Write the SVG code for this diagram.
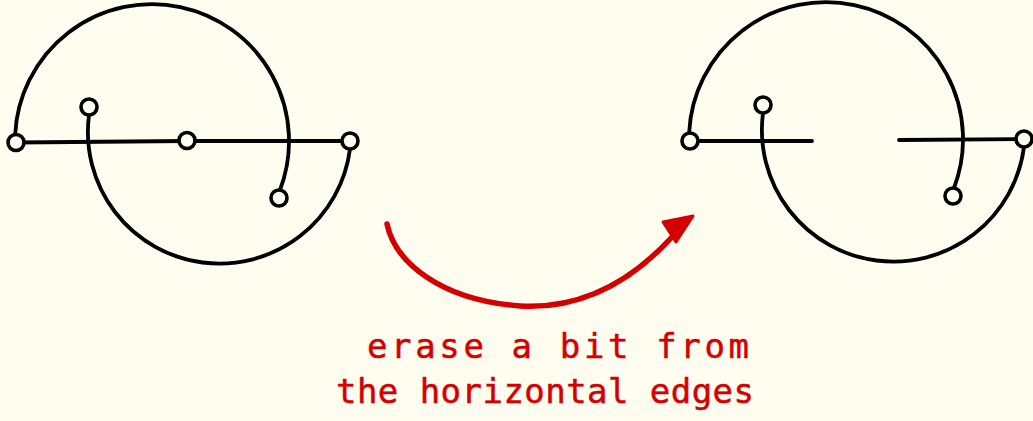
<svg xmlns="http://www.w3.org/2000/svg" width="1033" height="421" viewBox="0 0 1033 421">
<style>
.ln{fill:none;stroke:#000;stroke-width:3.8;stroke-linecap:round}
.pt{fill:#fffdef;stroke:#000;stroke-width:3.6}
.red{fill:none;stroke:#d40000;stroke-width:5.5;stroke-linecap:round}
.lbl{font-family:"DejaVu Sans Mono","Liberation Mono",monospace;font-size:34px;fill:#d40000;stroke:#d40000;stroke-width:0.5;stroke-linejoin:round}
</style>
<rect width="1033" height="421" fill="#fffdef"/>
<g id="left-figure">
<path class="ln" d="M16,142.5 L187,141 L350,141"/>
<path class="ln" d="M15.2,134 A137,137 0 1 1 280,190"/>
<path class="ln" d="M89,115 A131,131 0 1 0 350,149"/>
<circle class="pt" cx="16" cy="142.5" r="8"/>
<circle class="pt" cx="89" cy="107" r="8"/>
<circle class="pt" cx="187" cy="140.5" r="8"/>
<circle class="pt" cx="350" cy="141" r="8"/>
<circle class="pt" cx="279" cy="198" r="8"/>
</g>
<g id="right-figure" transform="translate(674,-2)">
<path class="ln" d="M16,143 L138,143"/>
<path class="ln" d="M225,142 L350,141"/>
<path class="ln" d="M15.2,134 A137,137 0 1 1 280,190"/>
<path class="ln" d="M89,115 A131,131 0 1 0 350,149"/>
<circle class="pt" cx="16" cy="143" r="8"/>
<circle class="pt" cx="89" cy="107" r="8"/>
<circle class="pt" cx="350" cy="141" r="8"/>
<circle class="pt" cx="279" cy="198" r="8"/>
</g>
<g id="connectors">
<path class="red" d="M387,224 C395,262 440,300 520,306 C590,310 640,272 672,237"/>
<polygon points="663,222 693,216 676,242" fill="#d40000" stroke="#d40000" stroke-width="3" stroke-linejoin="round"/>
</g>
<g id="label">
<text class="lbl" x="367" y="358" textLength="382" lengthAdjust="spacing">erase a bit from</text>
<text class="lbl" x="336" y="403" textLength="418" lengthAdjust="spacing">the horizontal edges</text>
</g>
</svg>
